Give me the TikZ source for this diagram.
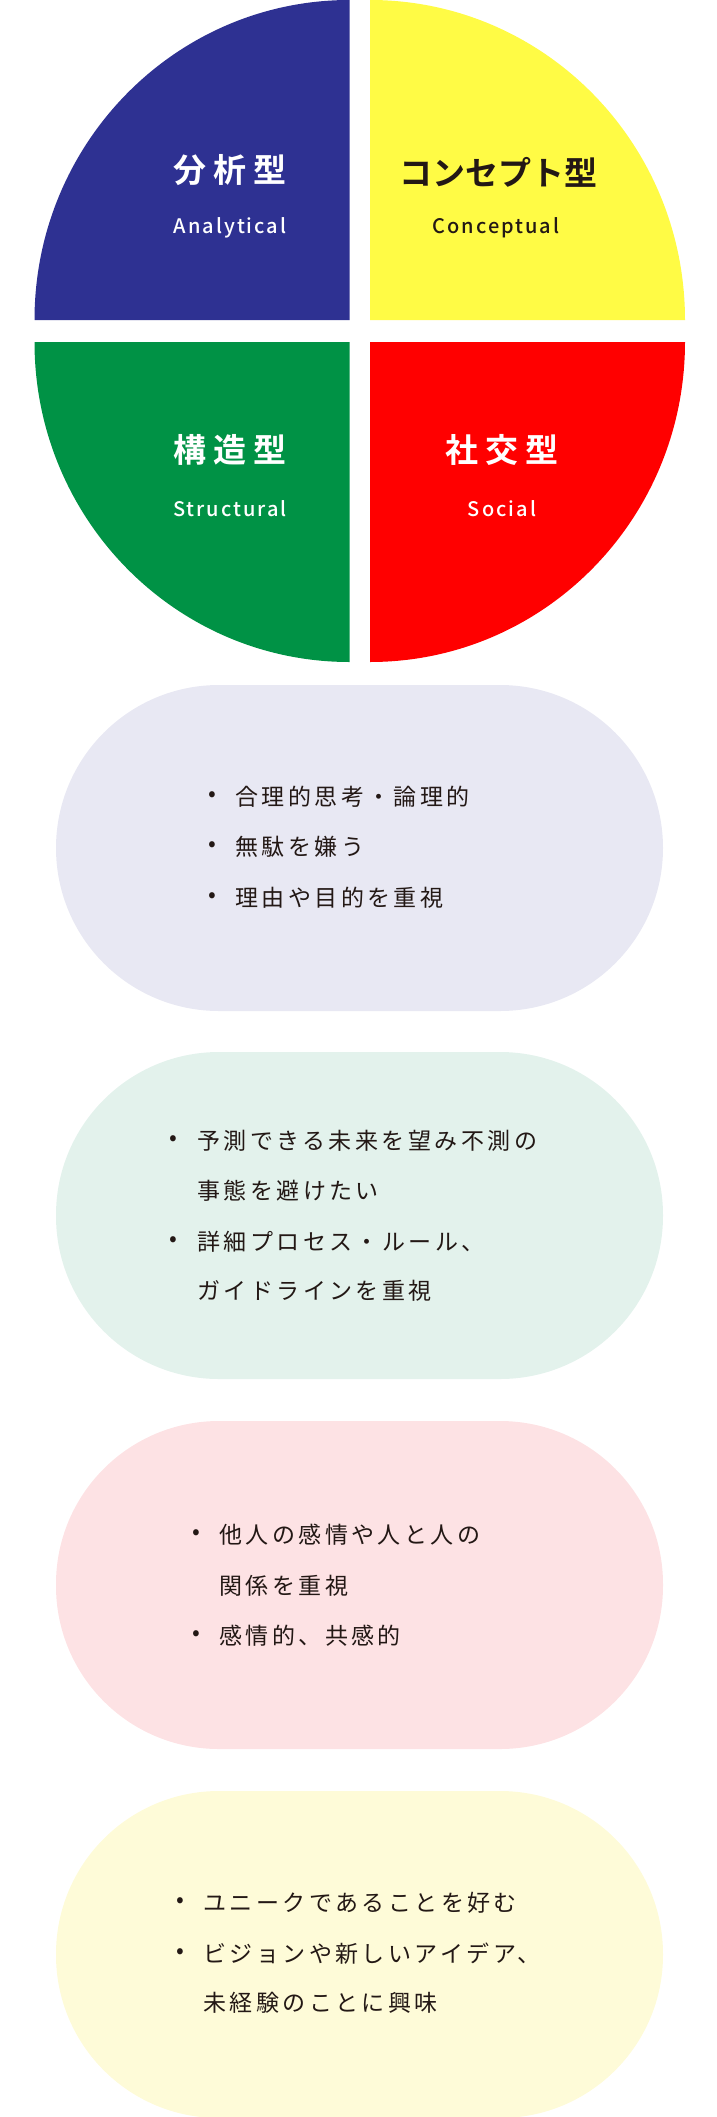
\documentclass[tikz,border=0pt]{standalone}
\usepackage{fontspec}
\setmainfont{Noto Sans CJK JP}
\newfontfamily\ttl[LetterSpace=20]{Noto Sans CJK JP Bold}
\newfontfamily\ttlb{Noto Sans CJK JP Bold}
\newfontfamily\sub[LetterSpace=10]{Noto Sans CJK JP Medium}
\newfontfamily\body[LetterSpace=15]{Noto Sans CJK JP}
\definecolor{qblue}{HTML}{2E3192}
\definecolor{qyellow}{HTML}{FFFB45}
\definecolor{qgreen}{HTML}{009245}
\definecolor{qred}{HTML}{FF0000}
\definecolor{pblue}{HTML}{E8E8F3}
\definecolor{pgreen}{HTML}{E3F2EC}
\definecolor{pred}{HTML}{FDE2E4}
\definecolor{pyellow}{HTML}{FEFBD8}
\definecolor{txt}{HTML}{231815}
\begin{document}
\begin{tikzpicture}[x=1pt,y=-1pt,
  big/.style={font=\fontsize{33}{36}\selectfont\ttl,inner sep=0pt},
  small/.style={font=\fontsize{20}{22}\selectfont\sub,inner sep=0pt},
  pill/.style={rounded corners=163pt},
  line/.style={anchor=west,text=txt,font=\fontsize{23}{26}\selectfont\body,inner sep=0pt},
  dot/.style={anchor=center,text=txt,font=\fontsize{23}{26}\selectfont,inner sep=0pt},
  quarter/.style={x radius=315,y radius=320}]
\useasboundingbox (0,0) rectangle (716,2117);
\begin{scope}
\clip (0,0) rectangle (716,2117);
\fill[qblue] (349.5,320) -- (34.5,320) arc[start angle=180,end angle=270,quarter] -- cycle;
\fill[qyellow] (370,320) -- (685,320) arc[start angle=0,end angle=-90,quarter] -- cycle;
\fill[qgreen] (349.5,342) -- (34.5,342) arc[start angle=180,end angle=90,quarter] -- cycle;
\fill[qred] (370,342) -- (685,342) arc[start angle=0,end angle=90,quarter] -- cycle;
\node[big,text=white] (a1) at (230,170) {分析型};
\node[small,text=white] (a2) at (230,228) {Analytical};
\node[font=\fontsize{33}{36}\selectfont\ttlb,inner sep=0pt,text=txt] (c1) at (498,172) {コンセプト型};
\node[small,text=txt] (c2) at (496,228) {Conceptual};
\node[big,text=white] (s1) at (230,450) {構造型};
\node[small,text=white] (s2) at (230,509) {Structural};
\node[big,text=white] (o1) at (502,450) {社交型};
\node[small,text=white] (o2) at (502,509) {Social};
\fill[pblue,pill] (56,685) rectangle (663,1011);
\fill[pgreen,pill] (56,1052) rectangle (663,1379);
\fill[pred,pill] (56,1421) rectangle (663,1749);
\fill[pyellow,pill] (56,1791) rectangle (663,2118);
\end{scope}
% pill 1
\node[dot] (b11) at (212,797) {•}; \node[line] (t11) at (235,797) {合理的思考・論理的};
\node[dot] (b12) at (212,847) {•}; \node[line] (t12) at (235,847) {無駄を嫌う};
\node[dot] (b13) at (212,898) {•}; \node[line] (t13) at (235,898) {理由や目的を重視};
% pill 2
\node[dot] (b21) at (173,1141) {•}; \node[line] (t21) at (197,1141) {予測できる未来を望み不測の};
\node[line] (t22) at (197,1191) {事態を避けたい};
\node[dot] (b23) at (173,1242) {•}; \node[line] (t23) at (197,1242) {詳細プロセス・ルール、};
\node[line] (t24) at (197,1291) {ガイドラインを重視};
% pill 3
\node[dot] (b31) at (196,1535) {•}; \node[line] (t31) at (219,1535) {他人の感情や人と人の};
\node[line] (t32) at (219,1586) {関係を重視};
\node[dot] (b33) at (196,1636) {•}; \node[line] (t33) at (219,1636) {感情的、共感的};
% pill 4
\node[dot] (b41) at (180,1903) {•}; \node[line] (t41) at (203,1903) {ユニークであることを好む};
\node[dot] (b42) at (180,1954) {•}; \node[line] (t42) at (203,1954) {ビジョンや新しいアイデア、};
\node[line] (t43) at (203,2003) {未経験のことに興味};
\end{tikzpicture}
\end{document}
